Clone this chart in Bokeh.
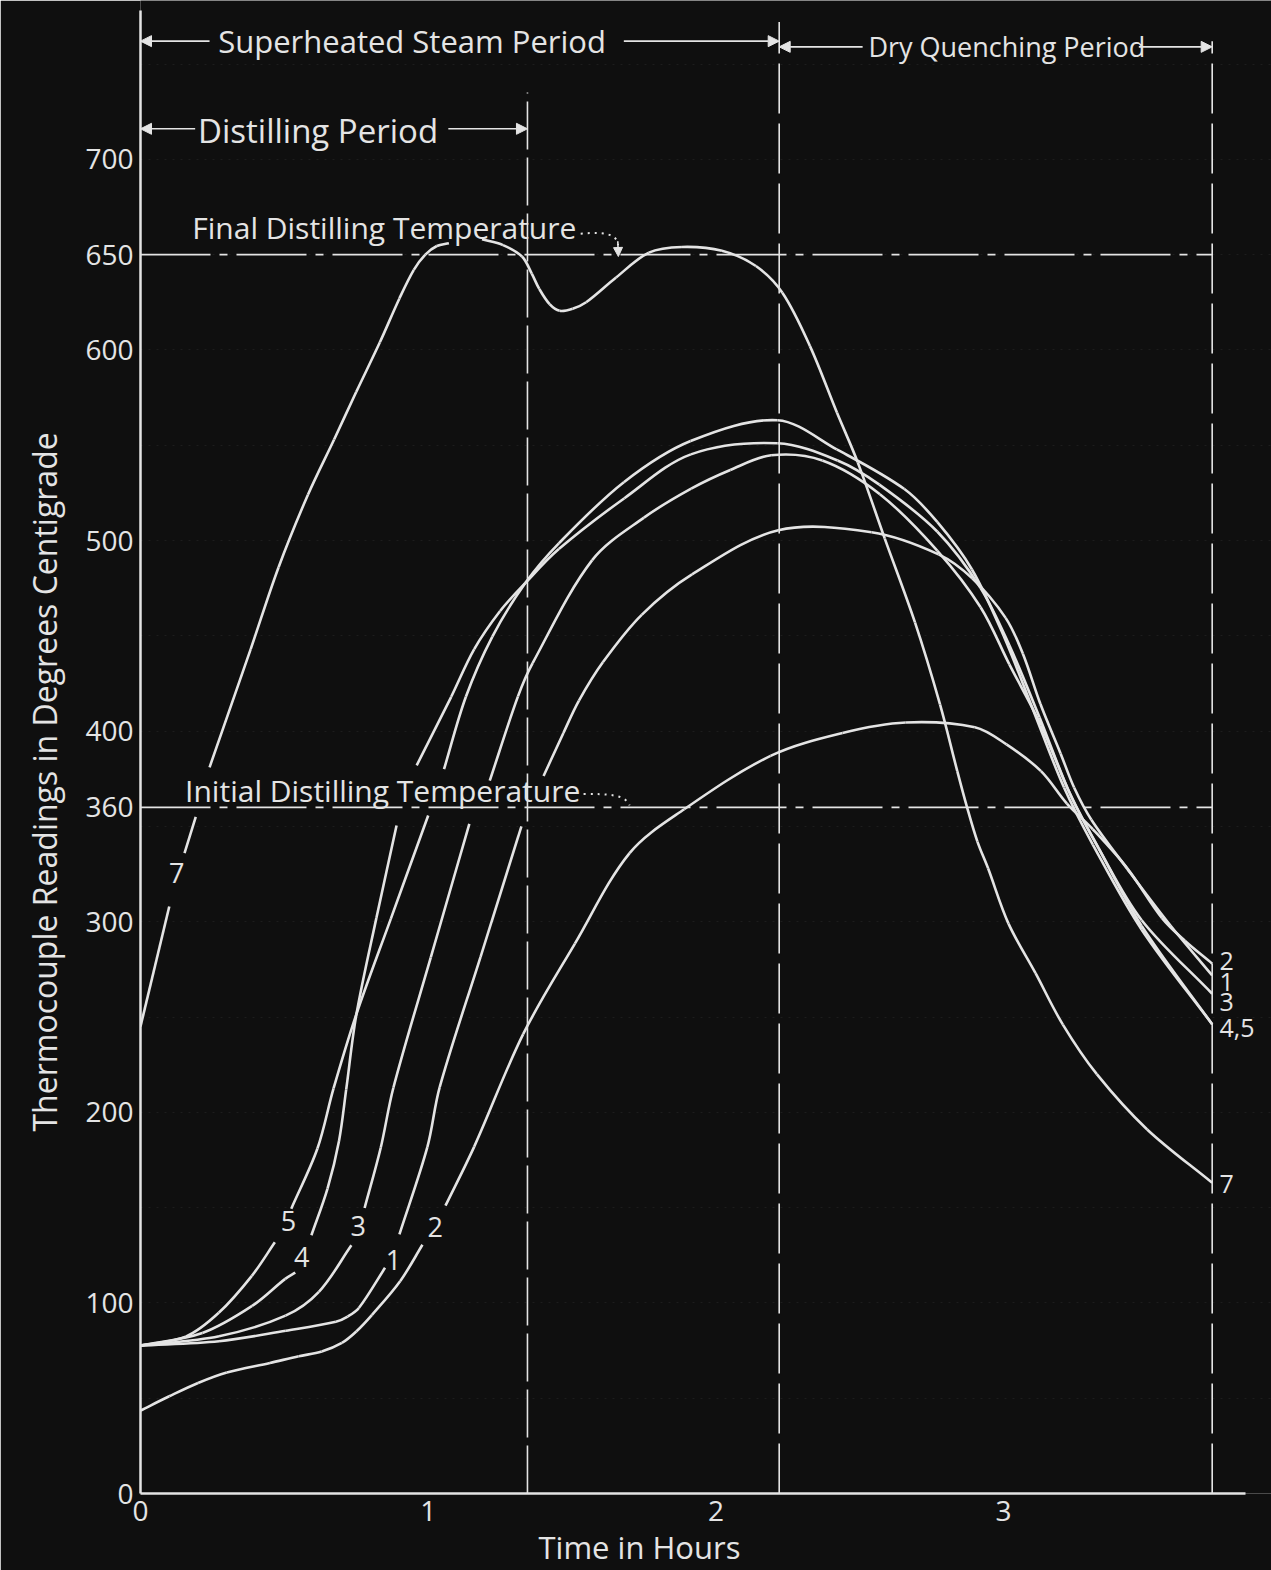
import math
import re
from bokeh.plotting import figure
from bokeh.models import FixedTicker, Arrow, NormalHead, Label, Title
from bokeh.core.properties import value
from bokeh.embed import file_html
from bokeh.resources import INLINE

nan = float("nan")

# ---- data (time in hours, temperature in deg C); nan = gap left for a label ----
t7 = [0.00, 0.10, nan, 0.153, 0.192, nan, 0.24, 0.383, 0.48, 0.582, 0.673, 0.75, 0.832, 0.90, 0.95, 0.99, 1.03, 1.072, nan,
      1.187, 1.26, 1.326, 1.36, 1.386, 1.422, 1.457, 1.502, 1.549, 1.653, 1.767, 1.882, 2.021, 2.139, 2.231, 2.327,
      2.421, 2.493, 2.587, 2.692, 2.779, 2.839, 2.873, 2.909, 2.946, 3.017, 3.111, 3.206, 3.324, 3.499, 3.725]
T7 = [245, 308, nan, 336, 355, nan, 381, 443, 486, 524, 553, 578, 604, 627, 642, 650, 654.5, 656, nan,
      658, 655, 649, 640, 632, 624, 620.5, 621.6, 625, 638, 651, 654, 652, 644, 630, 602,
      567, 541, 501, 457, 414, 379, 360, 342, 328, 299, 273, 246, 220, 191, 163]

t2 = [0.00, 0.10, 0.20, 0.30, 0.45, 0.55, 0.63, 0.70, 0.75, 0.804, 0.903, 0.98, nan, 1.06, 1.16, 1.33, 1.51, 1.70, 1.89,
      2.19, 2.44, 2.66, 2.90, 3.01, 3.13, 3.22, 3.31, 3.43, 3.55, 3.63, 3.725]
T2 = [43.5, 51, 58, 63.5, 68.5, 72, 74.5, 79, 85, 93.6, 111.5, 130.5, nan, 151, 182, 241, 288.5, 336, 359,
      387, 399, 404.5, 402, 393, 379, 362, 348.5, 328, 302, 290, 278]

t1 = [0.00, 0.273, 0.505, 0.679, 0.72, 0.759, 0.85, nan, 0.90, 0.997, 1.04, 1.182, 1.324, nan, 1.401, 1.47, 1.524, 1.607,
      1.742, 1.917, 2.217, 2.541, 2.774, 2.891, 3.007, 3.067, 3.128, 3.198, 3.245, 3.305, 3.43, 3.58, 3.725]
T1 = [77.6, 79.9, 85.4, 90.1, 92.8, 97.3, 118.4, nan, 136, 181.7, 213.2, 281.6, 350, nan, 376.4, 399, 416, 436.1,
      461, 482.2, 505.4, 504.3, 492.7, 480.1, 459.4, 440.6, 414.2, 388.3, 370.4, 353.5, 327.7, 298, 271.8]

t3 = [0.00, 0.273, 0.504, 0.62, 0.733, nan, 0.779, 0.835, 0.879, 1.009, 1.143, nan, 1.214, 1.312, 1.363, 1.57,
      1.75, 1.914, 2.05, 2.192, 2.37, 2.57, 2.77, 2.92, 3.02, 3.13, 3.23, 3.33, 3.48, 3.725]
T3 = [77.6, 82.5, 93.3, 105.8, 130.2, nan, 149.8, 181.4, 212.9, 281.3, 351.3, nan, 374, 418.2, 435.7, 489.7,
      512, 527.2, 537, 544.7, 542, 524.3, 494.6, 465, 435, 403, 367.4, 338.6, 300.8, 262.2]

t4 = [0.00, 0.215, 0.388, 0.503, 0.538, nan, 0.594, 0.65, 0.69, 0.715, 0.75, 0.82, 0.89, nan, 0.96, 1.08, 1.16, 1.25,
      1.337, 1.454, 1.682, 1.913, 2.214, 2.423, 2.568, 2.77, 2.92, 3.02, 3.125, 3.23, 3.33, 3.48, 3.725]
T4 = [77.6, 84.2, 98.4, 112.6, 115.9, nan, 135.5, 160, 185, 212, 251, 302, 350.5, nan, 382, 418, 443, 463,
      477.6, 495.5, 522.2, 545.2, 551, 542, 529.3, 504.6, 475, 445, 407.2, 367.4, 338.6, 297.8, 246.2]

t5 = [0.00, 0.157, 0.272, 0.387, 0.467, nan, 0.524, 0.615, 0.671, 0.75, 0.87, 1.0, nan, 1.055, 1.131, 1.223, 1.337,
      1.454, 1.68, 1.912, 2.214, 2.42, 2.655, 2.77, 2.89, 3.0, 3.105, 3.21, 3.31, 3.48, 3.725]
T5 = [77.6, 82.3, 94.8, 114.2, 131.8, nan, 149.4, 181, 212.5, 251.3, 301.5, 355.7, nan, 380, 418, 449.6, 477.6,
      498.5, 530.6, 552.2, 563.1, 547.8, 527, 509.6, 484.8, 450, 410.2, 370.4, 340.5, 295.8, 246.2]

y_ticks = [0, 100, 200, 300, 360, 400, 500, 600, 650, 700]
x_ticks = [0, 1, 2, 3]

final_temp = 650
initial_temp = 360
t_distill_end = 1.345
t_steam_end = 2.22
t_end = 3.725
x_axis_end = 3.84
y_axis_end = 778

curve_labels = ["5", "4", "3", "1", "2", "7"]
curve_label_t = [0.514, 0.56, 0.757, 0.879, 1.024, 0.126]
curve_label_T = [143, 124.2, 140.3, 122.7, 139.7, 325.5]
end_labels = ["2", "1", "3", "4,5", "7"]
end_label_T = [279.6, 268.6, 258, 244, 162.6]

# ---- styling ----
BG = "#0f0f0f"
INK = "#e4e4e4"
FONT = "Open Sans"
W, H = 1271, 1570
BL, BR, BT, BB = 140, 0, 0, 77
PX_PER_HOUR = 287.7
PX_PER_DEG = 1.906
X0, X1 = 0.0, (W - BL - BR) / PX_PER_HOUR
Y0, Y1 = 0.0, (H - BT - BB) / PX_PER_DEG

p = figure(width=W, height=H, output_backend="svg", toolbar_location=None,
           x_range=(X0, X1), y_range=(Y0, Y1),
           min_border_left=BL, min_border_right=BR, min_border_top=BT, min_border_bottom=BB)
p.background_fill_color = BG
p.border_fill_color = BG
p.outline_line_color = None

p.xgrid.grid_line_color = None
p.ygrid.ticker = FixedTicker(ticks=list(range(50, 751, 50)))
p.ygrid.grid_line_color = "#ffffff"
p.ygrid.grid_line_alpha = 0.06
p.ygrid.grid_line_dash = "2 6"
p.ygrid.bounds = (0, x_axis_end)

for ax in (p.xaxis, p.yaxis):
    ax.axis_line_color = INK
    ax.axis_line_width = 2.5
    ax.major_tick_line_color = None
    ax.minor_tick_line_color = None
    ax.major_label_text_color = INK
    ax.major_label_text_font = FONT
    ax.major_label_text_font_size = "28px"

p.xaxis.bounds = (0, x_axis_end)
p.yaxis.bounds = (0, y_axis_end)
p.xaxis.ticker = FixedTicker(ticks=x_ticks)
p.yaxis.ticker = FixedTicker(ticks=y_ticks)
p.yaxis.major_label_standoff = 1
p.xaxis.major_label_standoff = 1

# axis titles, offset along their panels to sit where the original has them
p.add_layout(Title(text="Thermocouple Readings in Degrees Centigrade", align="left", offset=362,
                   text_color=INK, text_font=FONT, text_font_size="32px", text_font_style="normal",
                   standoff=34), "left")
p.add_layout(Title(text="Time in Hours", align="left", offset=398,
                   text_color=INK, text_font=FONT, text_font_size="31px", text_font_style="normal",
                   standoff=0), "below")

# reference lines
p.line([0, t_end], [final_temp, final_temp], line_color=INK, line_width=1.6, line_dash="70 9 8 9")
p.line([0, t_end], [initial_temp, initial_temp], line_color=INK, line_width=1.6, line_dash="70 9 8 9")
p.line([t_distill_end, t_distill_end], [0, 735], line_color=INK, line_width=1.6, line_dash="48 8")
p.line([t_steam_end, t_steam_end], [0, 772], line_color=INK, line_width=1.6, line_dash="50 10")
p.line([t_end, t_end], [0, 762], line_color=INK, line_width=1.6, line_dash="50 10")


def smooth_segments(ts, Ts):
    """Split at nan gaps and return cubic Bezier pieces passing through the read points."""
    segs, cur = [], []
    for a, b in zip(ts, Ts):
        if a != a:
            if cur:
                segs.append(cur)
            cur = []
        else:
            cur.append((a, b))
    if cur:
        segs.append(cur)
    out = {k: [] for k in ("x0", "y0", "x1", "y1", "cx0", "cy0", "cx1", "cy1")}
    for s in segs:
        n = len(s)
        if n < 2:
            continue
        d = [math.hypot((s[i + 1][0] - s[i][0]) * PX_PER_HOUR, (s[i + 1][1] - s[i][1]) * PX_PER_DEG)
             for i in range(n - 1)]
        m = []
        for i in range(n):
            if i == 0:
                m.append(((s[1][0] - s[0][0]) / d[0], (s[1][1] - s[0][1]) / d[0]))
            elif i == n - 1:
                m.append(((s[i][0] - s[i - 1][0]) / d[i - 1], (s[i][1] - s[i - 1][1]) / d[i - 1]))
            else:
                dd = d[i - 1] + d[i]
                m.append(((s[i + 1][0] - s[i - 1][0]) / dd, (s[i + 1][1] - s[i - 1][1]) / dd))
        for i in range(n - 1):
            out["x0"].append(s[i][0]); out["y0"].append(s[i][1])
            out["x1"].append(s[i + 1][0]); out["y1"].append(s[i + 1][1])
            out["cx0"].append(s[i][0] + m[i][0] * d[i] / 3); out["cy0"].append(s[i][1] + m[i][1] * d[i] / 3)
            out["cx1"].append(s[i + 1][0] - m[i + 1][0] * d[i] / 3); out["cy1"].append(s[i + 1][1] - m[i + 1][1] * d[i] / 3)
    return out


for tt, TT in [(t7, T7), (t2, T2), (t1, T1), (t3, T3), (t4, T4), (t5, T5)]:
    p.bezier(line_color=INK, line_width=2.6, **smooth_segments(tt, TT))

# curve labels
p.text(curve_label_t, curve_label_T, text=curve_labels, text_color=INK, text_font=value(FONT),
       text_font_size="27px", text_align="center", text_baseline="middle")
p.text([t_end + 0.025] * len(end_labels), end_label_T, text=end_labels, text_color=INK,
       text_font=value(FONT), text_font_size="25px", text_align="left", text_baseline="middle")


def lab(x, y, s, size="27px", align="left"):
    p.add_layout(Label(x=x, y=y, text=s, text_color=INK, text_font=FONT, text_font_size=size,
                       text_align=align, text_baseline="middle"))


def arrow(x0, y0, x1, y1, size=11):
    p.add_layout(Arrow(end=NormalHead(size=size, fill_color=INK, line_color=INK),
                       x_start=x0, y_start=y0, x_end=x1, y_end=y1,
                       line_color=INK, line_width=1.6))


# period annotations
lab(0.27, 762, "Superheated Steam Period", "31px")
arrow(0.24, 762, 0.0, 762)
arrow(1.68, 762, t_steam_end, 762)
lab(2.53, 759, "Dry Quenching Period", "27px")
arrow(2.51, 759, t_steam_end, 759)
arrow(3.47, 759, t_end, 759)
lab(0.2, 715, "Distilling Period", "33px")
arrow(0.19, 716, 0.0, 716)
arrow(1.07, 716, t_distill_end, 716)

# temperature annotations with dotted pointers
lab(0.18, 664, "Final Distilling Temperature", "30px")
p.bezier(x0=[1.53], y0=[661], x1=[1.66], y1=[655], cx0=[1.61], cy0=[662], cx1=[1.657], cy1=[661],
         line_color=INK, line_width=2.0, line_dash="2 5")
arrow(1.659, 657, 1.661, 649, 9)
lab(0.155, 369, "Initial Distilling Temperature", "30px")
p.bezier(x0=[1.54], y0=[367], x1=[1.70], y1=[361], cx0=[1.62], cy0=[367], cx1=[1.685], cy1=[367],
         line_color=INK, line_width=2.0, line_dash="2 5")

html = file_html(p, INLINE)
html = re.sub(r"<body([^>]*)>", r'<body\1 style="background-color:#0f0f0f;margin:0">', html, count=1)
open("out.html", "w").write(html)
